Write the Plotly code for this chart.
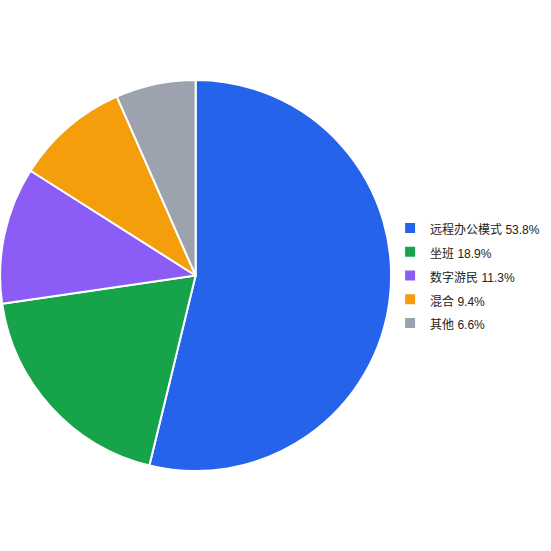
import plotly.graph_objects as go

labels = ["远程办公模式", "坐班", "数字游民", "混合", "其他"]
values = [53.8, 18.9, 11.3, 9.4, 6.6]
colors = ["#2563eb", "#16a34a", "#8b5cf6", "#f59e0b", "#9ca3af"]

# legend shows the share next to each name; the span keeps the text at 12px
# while the larger legend font gives the roomier row spacing
legend_names = [f"<span style='font-size:12px'>{l} {v}%</span>" for l, v in zip(labels, values)]

fig = go.Figure(go.Pie(
    labels=legend_names,
    values=values,
    sort=False,
    direction="clockwise",
    rotation=0,
    textinfo="none",
    hoverinfo="label",
    marker=dict(colors=colors, line=dict(color="white", width=2)),
    domain=dict(x=[0, 0.71], y=[0, 1]),
))

fig.update_layout(
    width=551, height=551,
    margin=dict(l=0, r=0, t=80, b=80),
    paper_bgcolor="white",
    font=dict(family="Liberation Sans, Noto Sans CJK SC, Arial", size=12, color="#222"),
    legend=dict(x=0.708, y=0.5, xanchor="left", yanchor="middle",
                font=dict(size=16), itemwidth=30),
)

# drop the page's default body margin so the figure sits at the top-left
fig.write_html("out.html", config={"displayModeBar": False},
               post_script="document.body.style.margin='0';")
